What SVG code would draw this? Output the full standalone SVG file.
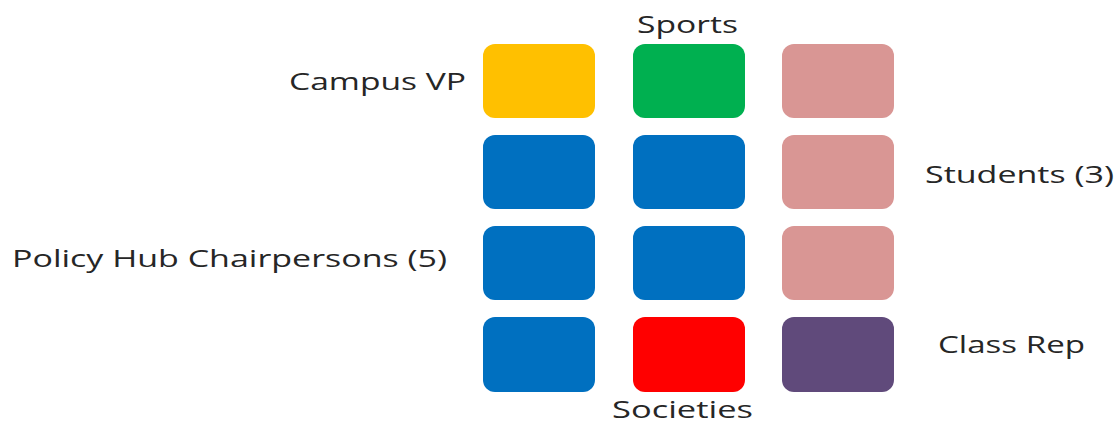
<svg xmlns="http://www.w3.org/2000/svg" width="1120" height="425" viewBox="0 0 1120 425">
<style>
.b{rx:12;ry:12}
.t{font-family:"Open Sans","Liberation Sans",sans-serif;font-size:24px;fill:#262626}
</style>
<rect width="1120" height="425" fill="#fff"/>
<g id="boxes">
<rect id="r1c1" class="b" x="483" y="44" width="112" height="74" fill="#FFC000"/>
<rect id="r1c2" class="b" x="633" y="44" width="112" height="74" fill="#00B050"/>
<rect id="r1c3" class="b" x="782" y="44" width="112" height="74" fill="#D99694"/>
<rect id="r2c1" class="b" x="483" y="135" width="112" height="74" fill="#0070C0"/>
<rect id="r2c2" class="b" x="633" y="135" width="112" height="74" fill="#0070C0"/>
<rect id="r2c3" class="b" x="782" y="135" width="112" height="74" fill="#D99694"/>
<rect id="r3c1" class="b" x="483" y="226" width="112" height="74" fill="#0070C0"/>
<rect id="r3c2" class="b" x="633" y="226" width="112" height="74" fill="#0070C0"/>
<rect id="r3c3" class="b" x="782" y="226" width="112" height="74" fill="#D99694"/>
<rect id="r4c1" class="b" x="483" y="317" width="112" height="75" fill="#0070C0"/>
<rect id="r4c2" class="b" x="633" y="317" width="112" height="75" fill="#FF0000"/>
<rect id="r4c3" class="b" x="782" y="317" width="112" height="75" fill="#604A7B"/>
</g>
<g id="labels">
<text class="t" x="637" y="33" textLength="101" lengthAdjust="spacingAndGlyphs">Sports</text>
<text class="t" x="289" y="90" textLength="177" lengthAdjust="spacingAndGlyphs">Campus VP</text>
<text class="t" x="925" y="183" textLength="189" lengthAdjust="spacingAndGlyphs">Students (3)</text>
<text class="t" x="12" y="267" textLength="435" lengthAdjust="spacingAndGlyphs">Policy Hub Chairpersons (5)</text>
<text class="t" x="938" y="353" textLength="147" lengthAdjust="spacingAndGlyphs">Class Rep</text>
<text class="t" x="612" y="418" font-size="23" textLength="141" lengthAdjust="spacingAndGlyphs">Societies</text>
</g>
</svg>
